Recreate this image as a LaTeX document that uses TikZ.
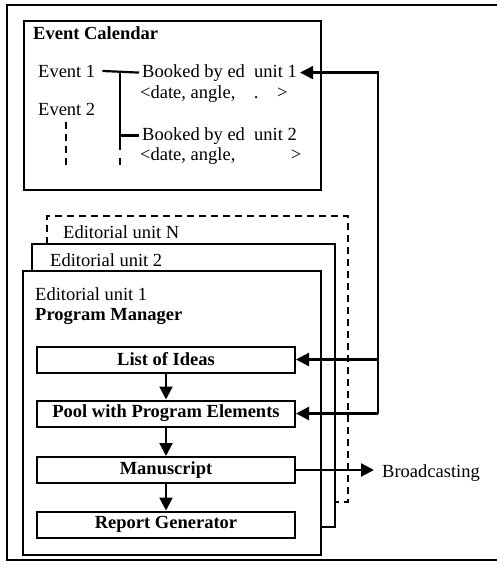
\documentclass[tikz,border=0pt]{standalone}
\usepackage{fontspec}
\setmainfont{Liberation Serif}
\usetikzlibrary{arrows.meta}
\begin{document}
\begin{tikzpicture}[x=1pt,y=-1pt,
  txt/.style={font=\fontsize{18.5}{22}\selectfont},
  every node/.style={txt, inner sep=0pt},
  lbl/.style={anchor=base west},
  blbl/.style={anchor=base west, font=\fontsize{18.5}{22}\selectfont\bfseries},
  frame/.style={draw, line width=2pt, fill=white},
  stage/.style={draw, line width=2pt, minimum width=258pt, minimum height=26pt, font=\fontsize{18.5}{22}\selectfont\bfseries},
  arr/.style={line width=2.2pt, -{Triangle[length=13pt,width=13pt]}},
  ln/.style={line width=2.2pt},
  dsh/.style={line width=2.2pt, dash pattern=on 7pt off 5pt},
]
\useasboundingbox (0,0) rectangle (497,573);
% outer frame
\draw[ln] (497,5) -- (7,5) -- (7,560) -- (497,560);

% event calendar
\node[frame, minimum width=297pt, minimum height=169pt] (cal) at (172.5,105.5) {};
\node[blbl] (calt) at (33,39) {Event Calendar};
\node[lbl] (ev1) at (38,77) {Event 1};
\node[lbl] (ev2) at (38,115) {Event 2};
\node[lbl, inner xsep=3pt] (b1) at (139,77) {Booked by ed\ \ unit 1};
\node[lbl] (d1) at (140,98) {<date, angle,\quad.\quad>};
\node[lbl, inner xsep=3pt] (b2) at (139,140) {Booked by ed\ \ unit 2};
\node[lbl] (d2) at (140,160) {<date, angle,\qquad\quad>};
\coordinate (jx) at (120,0);
\draw[ln] ([xshift=7pt]ev1.east) -- (b1.west);
\draw[ln] (jx |- b1.west) -- (jx |- b2.west) -- (b2.west);
\draw[ln] (jx |- b2.west) -- (120,150);
\draw[dsh] (120,158) -- (120,168);
\draw[dsh] (66,122) -- (66,168);

% editorial units
\draw[dsh] (47,244) -- (47,216) -- (348,216) -- (348,502) -- (335,502);
\node[lbl] (un) at (63,238) {Editorial unit N};
\draw[ln] (32,271) -- (32,244) -- (335,244) -- (335,527) -- (321,527);
\node[lbl] (u2t) at (50,266) {Editorial unit 2};
\node[frame, minimum width=298pt, minimum height=284pt] (u1) at (172,413) {};
\node[lbl] (u1t) at (35,300) {Editorial unit 1};
\node[blbl] (pm) at (35,320) {Program Manager};

% stages
\node[stage] (list) at (166,359.5) {List of Ideas};
\node[stage] (pool) at (166,413.5) {Pool with Program Elements};
\node[stage] (ms) at (166,470) {Manuscript};
\node[stage] (rg) at (166,524.5) {Report Generator};
\draw[arr] (list) -- (pool);
\draw[arr] (pool) -- (ms);
\draw[arr] (ms) -- (rg);

% feedback to calendar
\coordinate (fx) at (378,0);
\draw[arr] (fx |- pool.east) -- (fx |- b1.east) -- (b1.east);
\draw[arr] (fx |- list.east) -- (list.east);
\draw[arr] (fx |- pool.east) -- (pool.east);

% broadcasting
\node[lbl] (bc) at (382,477) {Broadcasting};
\draw[arr, shorten >=8pt] (ms.east) -- (ms.east -| bc.west);
\end{tikzpicture}
\end{document}
